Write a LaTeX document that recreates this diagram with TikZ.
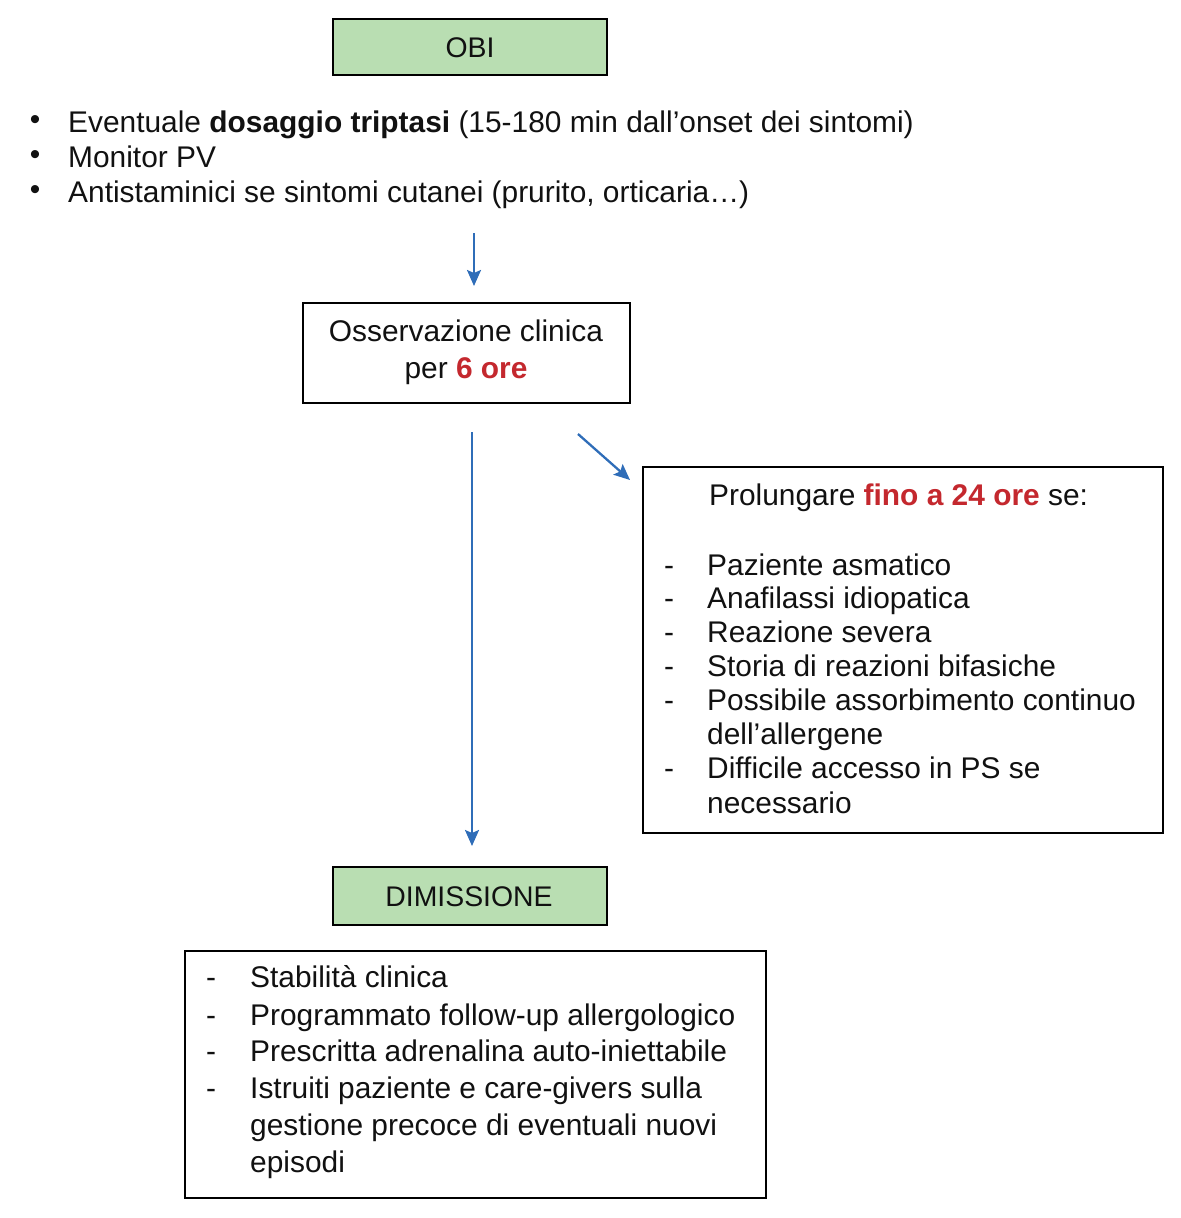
\documentclass[tikz,border=0pt]{standalone}
\usepackage{fontspec}
\setmainfont{Liberation Sans}
\usetikzlibrary{arrows.meta}
\definecolor{boxgreen}{HTML}{B9DEB2}
\definecolor{arrblue}{HTML}{2F6DB8}
\definecolor{redt}{HTML}{C4282E}
\definecolor{ink}{HTML}{111111}
\begin{document}
\begin{tikzpicture}[x=1bp,y=-1bp,
  every node/.style={font=\fontsize{30}{36}\selectfont, inner sep=0pt, text=ink},
  greenbox/.style={draw=black, line width=2.5bp, fill=boxgreen},
  whitebox/.style={draw=black, line width=2.5bp, fill=white},
  txt/.style={anchor=base west},
  ctxt/.style={anchor=base},
  lab/.style={anchor=base, font=\fontsize{28.5}{34}\selectfont},
  flow/.style={draw=arrblue, line width=2.3bp, -{Stealth[length=16bp,width=14bp,inset=3bp]}}
]
\useasboundingbox (0,0) rectangle (1181,1218);
% OBI
\node[greenbox, minimum width=274bp, minimum height=56bp] (obibox) at (470,47) {};
\node[lab] (obi) at (470,57) {OBI};

\node (b1) at (35,123) {•};
\node (b2) at (35,158) {•};
\node (b3) at (35,193) {•};
\node[txt] (l1) at (68,132) {Eventuale \textbf{dosaggio triptasi} (15-180 min dall’onset dei sintomi)};
\node[txt] (l2) at (68,167) {Monitor PV};
\node[txt] (l3) at (68,202) {Antistaminici se sintomi cutanei (prurito, orticaria…)};

\node[whitebox, minimum width=327bp, minimum height=100bp] (oss) at (466.5,353) {};
\node[ctxt] (o1) at (466,341) {Osservazione clinica};
\node[ctxt] (o2) at (466,378) {per \textcolor{redt}{\textbf{6 ore}}};

\coordinate (a1s) at (474,233);
\coordinate (a1e) at (474,286);
\draw[flow] (a1s) -- (a1e);

\coordinate (a2s) at (472,432);
\coordinate (a2e) at (472,846);
\draw[flow] (a2s) -- (a2e);

\node[whitebox, minimum width=520bp, minimum height=366bp] (pro) at (903,650) {};
\coordinate (a3s) at (578,434);
\coordinate (a3e) at (630,480);
\draw[flow] (a3s) -- (a3e);

\node[txt] (p0) at (709,505) {Prolungare \textcolor{redt}{\textbf{fino a 24 ore}} se:};
\foreach \y/\t [count=\i] in {575/Paziente asmatico, 608/Anafilassi idiopatica, 642/Reazione severa, 676/Storia di reazioni bifasiche, 710/Possibile assorbimento continuo, 778/Difficile accesso in PS se}{
  \node[txt] (pd\i) at (664,\y) {-};
  \node[txt] (pi\i) at (707,\y) {\t};
}
\node[txt] (pi7) at (707,744) {dell’allergene};
\node[txt] (pi8) at (707,813) {necessario};

\node[greenbox, minimum width=274bp, minimum height=58bp] (dim) at (470,896) {};
\node[lab] (dimt) at (469,906) {DIMISSIONE};

\node[whitebox, minimum width=581bp, minimum height=247bp] (dis) at (475.5,1074.5) {};
\foreach \y/\t [count=\i] in {987/Stabilità clinica, 1025/Programmato follow-up allergologico, 1061/Prescritta adrenalina auto-iniettabile, 1098/Istruiti paziente e care-givers sulla}{
  \node[txt] (dd\i) at (206,\y) {-};
  \node[txt] (di\i) at (250,\y) {\t};
}
\node[txt] (di5) at (250,1135) {gestione precoce di eventuali nuovi};
\node[txt] (di6) at (250,1172) {episodi};
\end{tikzpicture}
\end{document}
